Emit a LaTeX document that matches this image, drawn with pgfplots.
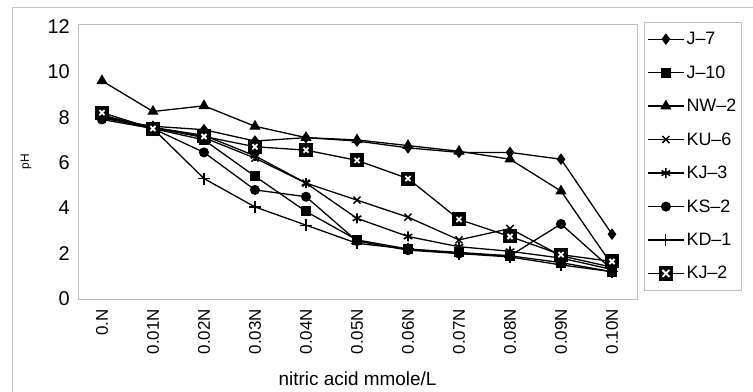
\documentclass[border=0pt]{standalone}
\usepackage{pgfplots}
\pgfplotsset{compat=1.18}
\usepackage{fontspec}
\setmainfont{Liberation Sans}
\begin{document}
\begin{tikzpicture}
\useasboundingbox (0,0) rectangle (753bp,392bp);
\draw[gray!45, line width=0.6bp] (12bp,0bp) -- (12bp,385bp) -- (753bp,385bp);
\begin{axis}[
  at={(78bp,93bp)}, anchor=south west,
  scale only axis, width=559bp, height=275bp,
  xmin=-0.47, xmax=10.49, ymin=0, ymax=12.1,
  axis line style={gray!50, line width=0.5bp},
  xtick={0,...,10},
  xticklabels={0.N,0.01N,0.02N,0.03N,0.04N,0.05N,0.06N,0.07N,0.08N,0.09N,0.10N},
  x tick label style={rotate=90, anchor=east, font=\fontsize{17}{19}\selectfont, inner sep=0pt},
  xtick style={draw=none},
  xticklabel shift=10bp,
  ytick={0,2,...,12},
  ytick style={draw=none},
  y tick label style={font=\fontsize{20}{22}\selectfont, inner sep=0pt},
  yticklabel shift=8bp,
  /pgf/number format/assume math mode=true,
  xlabel={nitric acid mmole/L},
  xlabel style={font=\fontsize{19}{21}\selectfont, yshift=-14bp},
  ylabel={pH},
  ylabel style={font=\fontsize{12}{14}\selectfont, at={(axis description cs:-0.093,0.5)}, anchor=center},
  legend cell align=left,
  legend style={at={(1,1)}, anchor=north west, xshift=7bp, yshift=2bp,
    draw=gray!50, line width=0.5bp, font=\fontsize{18}{20}\selectfont,
    row sep=15.5bp, inner xsep=3bp, inner ysep=8bp},
  legend image code/.code={\draw[mark repeat=2, mark phase=2] plot coordinates {(0bp,0bp) (18bp,0bp) (36bp,0bp)};},
  ln/.style={black, solid, line width=1.3bp, mark options={solid, fill=black, draw=black, line width=1bp}},
]
\addplot[ln, mark=diamond*, mark size=5bp] coordinates {(0,7.95)(1,7.6)(2,7.45)(3,6.95)(4,7.1)(5,6.95)(6,6.65)(7,6.45)(8,6.45)(9,6.15)(10,2.85)};
\addlegendentry{J--7}
\addplot[ln, mark=square*, mark size=4.5bp] coordinates {(0,8.1)(1,7.5)(2,7.0)(3,5.4)(4,3.85)(5,2.6)(6,2.2)(7,2.05)(8,1.9)(9,1.6)(10,1.2)};
\addlegendentry{J--10}
\addplot[ln, mark=triangle*, mark size=5.5bp] coordinates {(0,9.6)(1,8.25)(2,8.5)(3,7.6)(4,7.1)(5,7.0)(6,6.75)(7,6.5)(8,6.15)(9,4.75)(10,1.5)};
\addlegendentry{NW--2}
\addplot[ln, mark=x, mark size=5bp, mark options={line width=1.4bp}] coordinates {(0,8.0)(1,7.55)(2,7.1)(3,6.2)(4,5.1)(5,4.35)(6,3.6)(7,2.6)(8,3.1)(9,1.9)(10,1.4)};
\addlegendentry{KU--6}
\addplot[ln, mark=asterisk, mark size=5bp, mark options={line width=1.6bp}] coordinates {(0,8.05)(1,7.55)(2,7.2)(3,6.3)(4,5.1)(5,3.55)(6,2.75)(7,2.3)(8,2.1)(9,1.8)(10,1.3)};
\addlegendentry{KJ--3}
\addplot[ln, mark=*, mark size=4.5bp] coordinates {(0,7.9)(1,7.5)(2,6.45)(3,4.8)(4,4.5)(5,2.55)(6,2.15)(7,2.0)(8,1.9)(9,3.3)(10,1.3)};
\addlegendentry{KS--2}
\addplot[ln, mark=+, mark size=6bp, mark options={line width=1.1bp}] coordinates {(0,8.0)(1,7.5)(2,5.3)(3,4.05)(4,3.25)(5,2.45)(6,2.2)(7,2.0)(8,1.85)(9,1.5)(10,1.2)};
\addlegendentry{KD--1}
\addplot[ln, mark=square*, mark size=6.5bp,
  legend image code/.code={%
    \draw[black, line width=1.3bp] (0bp,0bp) -- (36bp,0bp);
    \fill[black] (11.5bp,-6.5bp) rectangle (24.5bp,6.5bp);
    \draw[white, line width=1.8bp] (14.5bp,-3.5bp) -- (21.5bp,3.5bp) (14.5bp,3.5bp) -- (21.5bp,-3.5bp);}]
  coordinates {(0,8.2)(1,7.5)(2,7.15)(3,6.7)(4,6.55)(5,6.1)(6,5.3)(7,3.5)(8,2.75)(9,1.95)(10,1.65)};
\addlegendentry{KJ--2}
\addplot[only marks, forget plot, mark=x, mark size=3.6bp, mark options={white, line width=1.8bp}]
  coordinates {(0,8.2)(1,7.5)(2,7.15)(3,6.7)(4,6.55)(5,6.1)(6,5.3)(7,3.5)(8,2.75)(9,1.95)(10,1.65)};
\end{axis}
\end{tikzpicture}
\end{document}
